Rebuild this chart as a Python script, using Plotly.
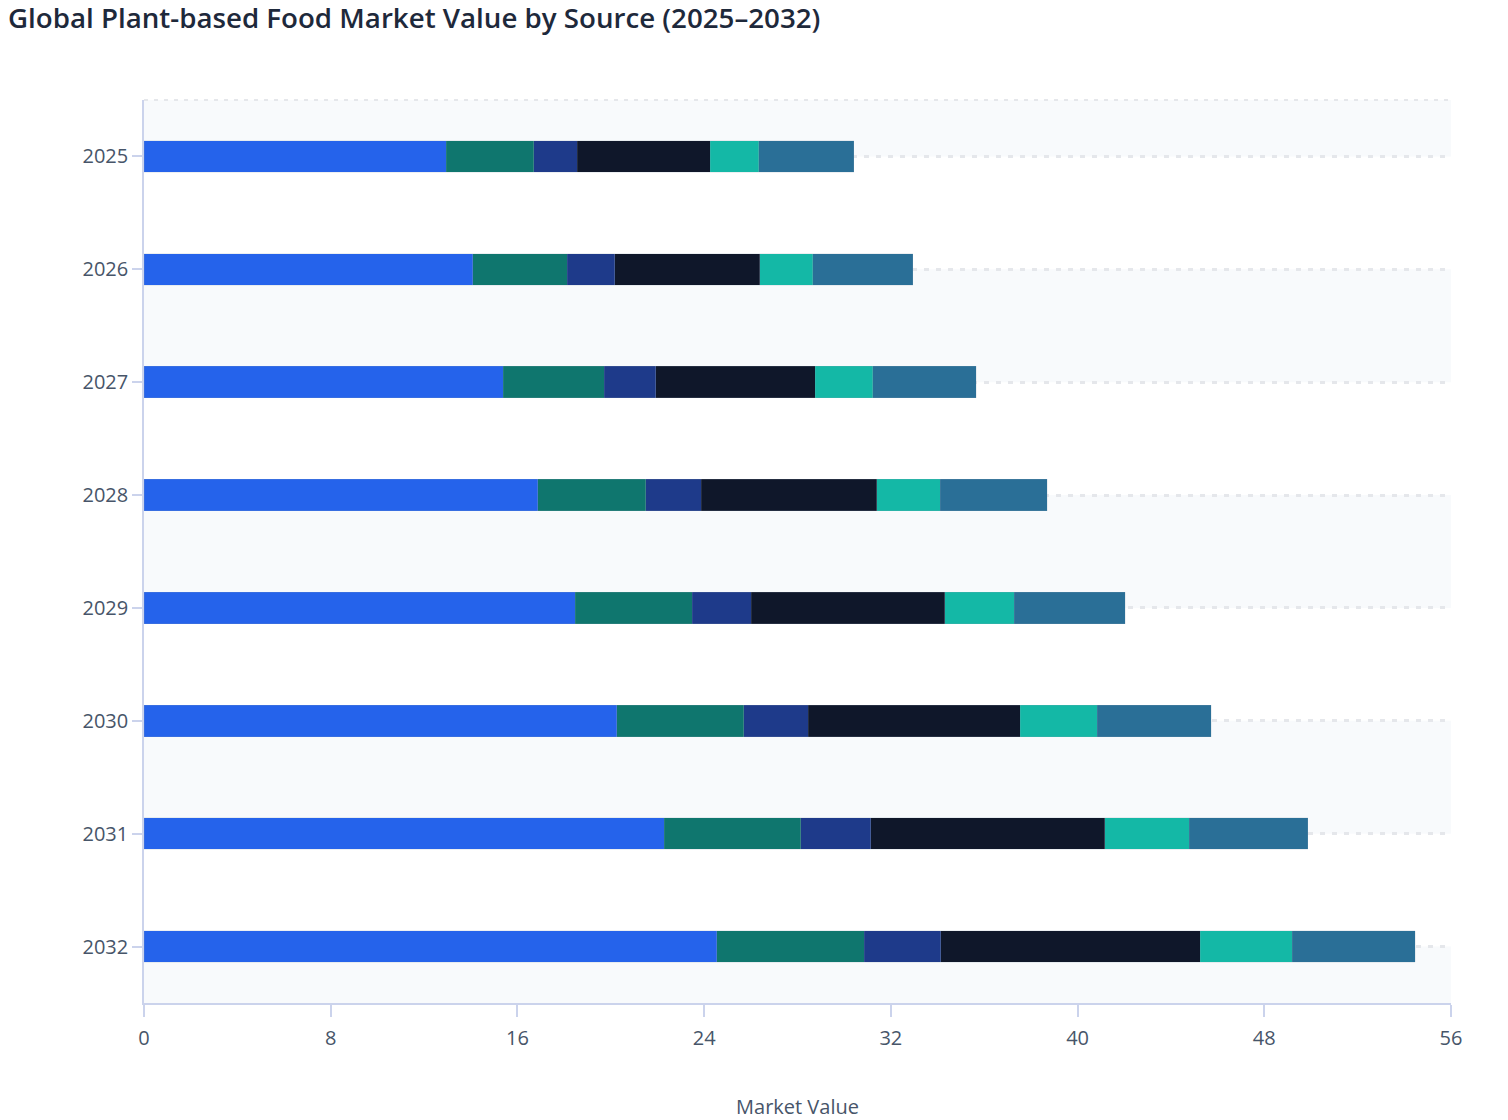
import plotly.graph_objects as go

# Data (market value, stacked by source)
years = ["2025", "2026", "2027", "2028", "2029", "2030", "2031", "2032"]

soy = [12.94, 14.09, 15.39, 16.86, 18.47, 20.26, 22.28, 24.53]
pea = [3.75, 4.04, 4.33, 4.64, 5.02, 5.43, 5.86, 6.34]
wheat = [1.88, 2.03, 2.20, 2.38, 2.53, 2.76, 2.99, 3.26]
oat = [5.70, 6.23, 6.85, 7.51, 8.29, 9.10, 10.04, 11.12]
almond = [2.08, 2.27, 2.46, 2.72, 2.97, 3.29, 3.61, 3.94]
other = [4.07, 4.27, 4.42, 4.58, 4.76, 4.89, 5.09, 5.27]

x_ticks = [0, 8, 16, 24, 32, 40, 48, 56]

series = [
    ("Soy", soy, "#2563eb"),
    ("Pea", pea, "#0f766e"),
    ("Wheat", wheat, "#1e3a8a"),
    ("Oat", oat, "#0f172a"),
    ("Almond", almond, "#14b8a6"),
    ("Other", other, "#2a6f97"),
]

fig = go.Figure()

for name, vals, color in series:
    fig.add_trace(go.Bar(
        y=years, x=vals, name=name, orientation="h",
        marker=dict(color=color, line=dict(width=0.5, color="rgba(148,163,184,0.35)")),
    ))

# alternating light bands behind the bars
n = len(years)
shapes = []
for i in range(0, n + 1, 2):
    shapes.append(dict(
        type="rect", xref="paper", yref="y",
        x0=0, x1=1, y0=max(i - 1, -0.5), y1=min(i, n - 0.5),
        fillcolor="#f8fafc", line=dict(width=0), layer="below",
    ))
# dotted line along the top of the plot area
shapes.append(dict(
    type="line", xref="paper", yref="paper", x0=0, x1=1, y0=1, y1=1,
    line=dict(color="#e5e7eb", width=2, dash="4px,6px"), layer="below",
))

axis_color = "#cbd3ec"

fig.update_layout(
    barmode="stack",
    bargap=0.72,
    width=1508, height=1120,
    margin=dict(l=136, r=65, t=92, b=125),
    paper_bgcolor="white",
    plot_bgcolor="white",
    showlegend=False,
    shapes=shapes,
    font=dict(family="Open Sans", color="#475569", size=20),
    title=dict(
        text="Global Plant-based Food Market Value by Source (2025–2032)",
        x=0, xref="container", xanchor="left",
        y=1, yref="container", yanchor="top",
        pad=dict(t=1, l=0),
        font=dict(family="Open Sans", size=27.7, color="#1e293b", weight=600),
    ),
    xaxis=dict(
        range=[0, 56], tickvals=x_ticks,
        showgrid=False, zeroline=False,
        showline=True, linecolor=axis_color, linewidth=2,
        ticks="outside", ticklen=12, tickcolor=axis_color, tickwidth=1.5,
        ticklabelstandoff=4,
        tickfont=dict(size=20, color="#475569"),
        title=dict(text="Market Value", standoff=50, font=dict(size=20, color="#475569")),
        automargin=False,
    ),
    yaxis=dict(
        autorange="reversed",
        showgrid=True, gridcolor="#e5e7eb", gridwidth=2.5, griddash="5px,7px",
        showline=True, linecolor=axis_color, linewidth=1.5,
        ticks="outside", ticklen=10, tickcolor=axis_color, tickwidth=1.5,
        tickfont=dict(size=20, color="#475569"),
        automargin=False,
    ),
)

fig.write_html("out.html")
